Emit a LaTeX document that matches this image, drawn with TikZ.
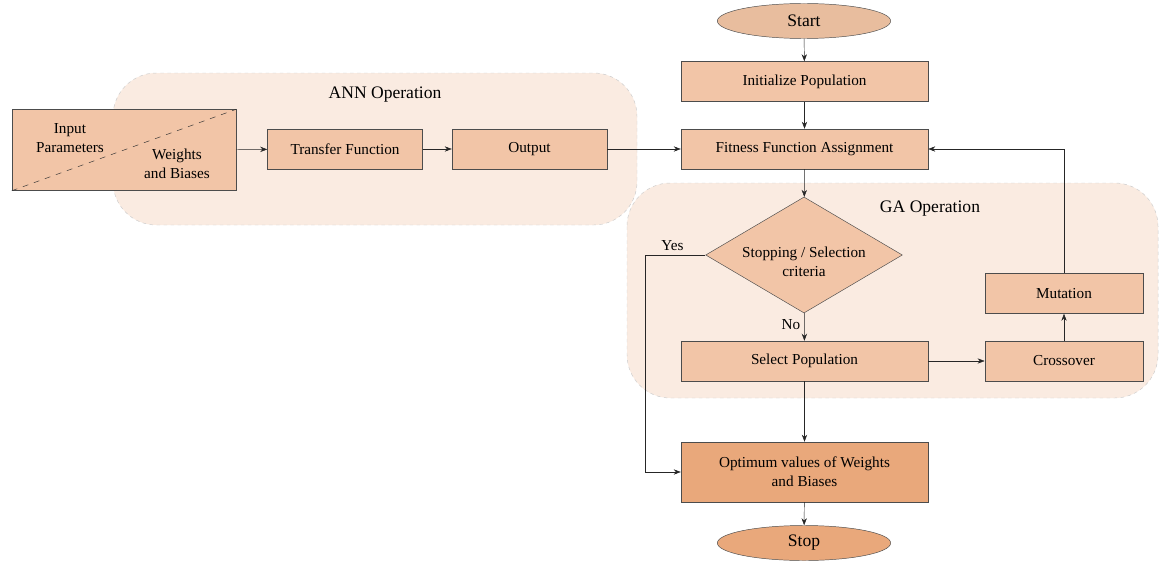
\documentclass[tikz,border=0pt]{standalone}
\usepackage{fontspec}
\setmainfont{Liberation Serif}
\usetikzlibrary{shapes.geometric,arrows.meta}
\definecolor{boxfill}{HTML}{F2C5A7}
\definecolor{startfill}{HTML}{E8BD9E}
\definecolor{endfill}{HTML}{E9A87B}
\definecolor{regfill}{HTML}{FAEBE1}
\tikzset{
    box/.style={draw=black!70, fill=boxfill, minimum width=7.41cm, minimum height=1.2cm, inner sep=2pt, align=center},
    smallbox/.style={box, minimum width=4.65cm},
    term/.style={ellipse, draw=black!70, minimum width=5.2cm, minimum height=1.05cm, inner sep=0pt, font=\fontsize{15}{17}\selectfont},
    region/.style={draw=black!20, dashed, fill=regfill, rounded corners=1.3cm},
    arr/.style={-{Stealth[length=6pt,width=4.5pt]}, draw=black!85}
}
\begin{document}
\begin{tikzpicture}[x=0.03cm, y=-0.03cm, font=\fontsize{13}{16}\selectfont]
            \useasboundingbox (0,0) rectangle (1161,563);
            % background regions
            \draw[region] (113,73) rectangle (637,225);
            \draw[region] (627,183) rectangle (1158,398);
            \node at (385,95) {\fontsize{15}{17}\selectfont ANN Operation};
            \node at (930,209) {\fontsize{15}{17}\selectfont GA Operation};

            % main column
            \node[term, fill=startfill] (start) at (804,21) {Start};
            \node[box] (init) at (804.5,81.5) {Initialize Population};
            \node[box] (fit) at (804.5,149) {Fitness Function Assignment};
            \node[diamond, draw=black!70, fill=boxfill, minimum width=5.9cm, minimum height=3.48cm, inner sep=0pt] (crit) at (804,255) {};
            \node[align=center] (critlbl) at (804,262) {Stopping / Selection\\criteria};
            \node[box] (sel) at (804.5,361) {Select Population};
            \node[box, fill=endfill, minimum height=1.8cm] (opt) at (804.5,472) {Optimum values of Weights\\and Biases};
            \node[term, fill=endfill] (stop) at (804,543) {Stop};

            % GA loop
            \node[smallbox, minimum width=4.75cm] (cross) at (1064,361) {Crossover};
            \node[smallbox, minimum width=4.75cm] (mut) at (1064,293.5) {Mutation};

            % ANN side
            \node[draw=black!70, fill=boxfill, minimum width=6.72cm, minimum height=2.43cm, inner sep=0pt] (inp) at (124,150) {};
            \draw[dashed, dash pattern=on 5pt off 5pt, draw=black!80] (inp.south west) -- (inp.north east);
            \node[align=center] (ip) at (70,138) {Input\\Parameters};
            \node[align=center] (wb) at (177,164) {Weights\\and Biases};
            \node[smallbox] (tf) at (345,149) {Transfer Function};
            \node[smallbox] (out) at (529.5,149) {Output};

            % connectors
            \draw[arr] (inp) -- (tf);
            \draw[arr] (tf) -- (out);
            \draw[arr] (out) -- (fit);
            \draw[arr] (start) -- (init);
            \draw[arr] (init) -- (fit);
            \draw[arr] (fit) -- (crit);
            \draw[arr] (crit) -- node[pos=0.4, left] {No} (sel);
            \draw[arr] (sel) -- (cross);
            \draw[arr] (cross) -- (mut);
            \draw[arr] (mut.north) |- (fit.east);
            \draw[arr] (sel) -- (opt);
            \draw[arr] (crit.west) -- ++(-60,0) node[pos=0.55, above] {Yes} |- (opt.west);
            \draw[arr] (opt) -- (stop);
        \end{tikzpicture}
\end{document}
